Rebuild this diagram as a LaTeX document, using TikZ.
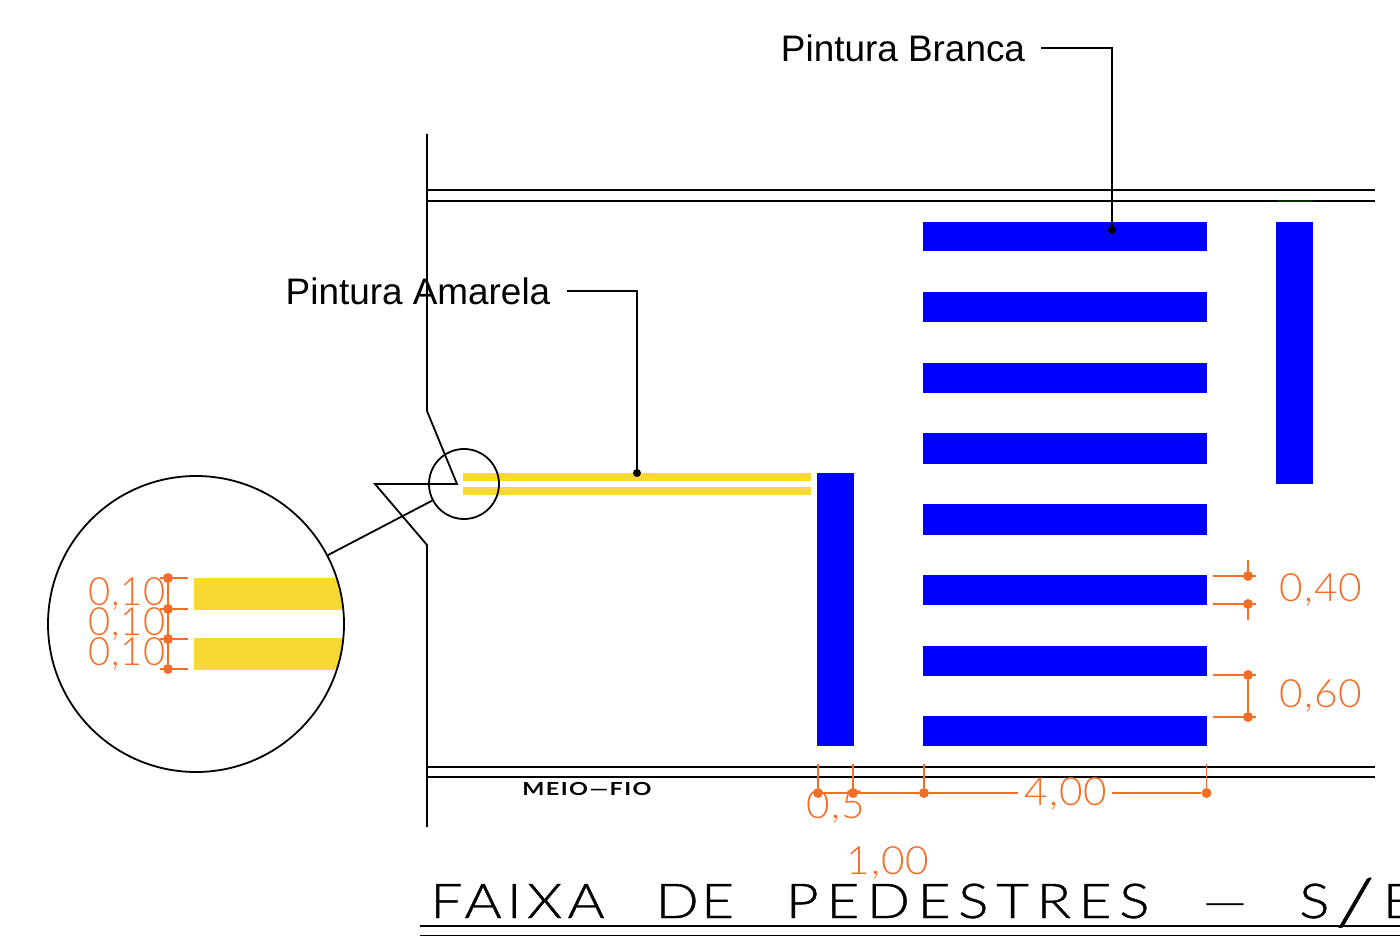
\documentclass[tikz,border=0pt]{standalone}
\usepackage{fontspec}
\setmainfont{Liberation Sans}
\newfontfamily\cadfont[FakeStretch=1.04, LetterSpace=3]{Lato Light}
\newfontfamily\cadfontdet[FakeStretch=0.98, LetterSpace=2]{Lato Light}
\newfontfamily\titlefont[FakeStretch=1.18, LetterSpace=12, FakeBold=0.8]{Lato Light}
\newfontfamily\meiofont[FakeStretch=1.3, LetterSpace=8]{Lato}
\usetikzlibrary{calc}
\definecolor{tintaazul}{RGB}{0,0,255}
\definecolor{tintaamarela}{RGB}{248,216,50}
\definecolor{cota}{RGB}{245,110,40}
\tikzset{
  linha/.style={black, line width=0.9pt},
  faixa/.style={fill=tintaazul},
  amarela/.style={fill=tintaamarela},
  rotulo/.style={font=\fontsize{18.45}{20}\selectfont, inner sep=8pt, text height=13.8pt, text depth=0pt},
  cotalinha/.style={cota, line width=0.8pt},
  cotatexto/.style={cota, font=\cadfont\fontsize{19.5}{20}\selectfont, inner sep=0pt},
  cotadet/.style={cotatexto, font=\cadfontdet\fontsize{19.5}{20}\selectfont, anchor=east},
  ponto/.style={circle, fill=cota, inner sep=0pt, minimum size=5pt},
}
\begin{document}
\begin{tikzpicture}[x=0.5pt, y=-0.5pt]
        \useasboundingbox (0,0) rectangle (1400,945);
        \clip (0,0) rectangle (1400,945);

        % Points of the kerb outline
        \coordinate (K1) at (427,134);
        \coordinate (K2) at (427,411);
        \coordinate (K3) at (457,484);
        \coordinate (K4) at (375,484);
        \coordinate (K5) at (427,545);
        \coordinate (K6) at (427,827);

        % Road edges and break line
        \draw[linha] (427,190) -- (1375,190);
        \draw[linha] (427,201) -- (1375,201);
        \draw[linha] (427,767) -- (1375,767);
        \draw[linha] (427,777) -- (1375,777);
        \draw[linha] (K1) -- (K2) -- (K3) -- (K4) -- (K5) -- (K6);
        \draw[black!70!green!60!black, line width=0.9pt] (1277,201) -- (1313,201);

        % White paint, drawn blue
        \foreach \y/\h in {222/29, 292/30, 363/30, 433/31, 504/31, 575/30, 646/30, 716/30}
          \fill[faixa] (923,\y) rectangle ++(284,\h);
        \fill[faixa] (1276,222) rectangle (1313,484);
        \fill[faixa] (817,473) rectangle (854,746);

        % Yellow paint
        \fill[amarela] (463,473) rectangle (811,481.5);
        \fill[amarela] (463,487) rectangle (811,495);

        % Detail circles
        \node[draw, circle, line width=0.9pt, minimum size=35pt, inner sep=0pt] (Small) at (464,484) {};
        \begin{scope}
          \clip (196,624) circle (148);
          \fill[amarela] (194,578) rectangle (350,610);
          \fill[amarela] (194,638) rectangle (350,670);
        \end{scope}
        \node[draw, circle, line width=0.9pt, minimum size=148pt, inner sep=0pt] (Big) at (196,624) {};
        \draw[linha] (Big) -- (Small);

        % Labels with leaders
        \node[rotulo] (PB) at (903,48) {Pintura Branca};
        \coordinate (PBend) at (1112,230);
        \draw[linha] (PB.east) -| (PBend);
        \fill (PBend) circle (4);
        \node[rotulo] (PA) at (418,291) {Pintura Amarela};
        \coordinate (PAend) at (637,473);
        \draw[linha] (PA.east) -| (PAend);
        \fill (PAend) circle (4);

        % Dimensions of the detail
        \foreach \n/\y in {a/578, b/609, c/639, d/669} {
          \node[ponto] (D\n) at (168,\y) {};
          \draw[cotalinha] (160,\y) -- (188,\y);
        }
        \draw[cotalinha] (Da) -- (Dd);
        \node[cotadet] at (166,594) {0,10};
        \node[cotadet] at (166,624) {0,10};
        \node[cotadet] at (166,654) {0,10};

        % Dimensions on the right
        \foreach \n/\y in {a/576, b/604, c/675, d/717} {
          \node[ponto] (R\n) at (1248,\y) {};
          \draw[cotalinha] (1213,\y) -- (1256,\y);
        }
        \draw[cotalinha] (1248,560) -- (Ra);
        \draw[cotalinha] (Rb) -- (1248,620);
        \draw[cotalinha] (Rc) -- (Rd);
        \node[cotatexto, anchor=west] at (1279,590) {0,40};
        \node[cotatexto, anchor=west] at (1279,696) {0,60};

        % Dimensions at the bottom
        \foreach \n/\x in {a/818, b/853, c/924, d/1206.5} {
          \node[ponto] (B\n) at (\x,793) {};
          \draw[cotalinha] (\x,764) -- (B\n);
        }
        \node[cotatexto] (Bq) at (1066,794) {4,00};
        \draw[cotalinha] (Ba) -- (Bc) -- (1018,793);
        \draw[cotalinha] (1112,793) -- (Bd);
        \node[cotatexto] at (835.5,807) {0,5};
        \node[cotatexto] at (888,863) {1,00};

        % Texts of the drawing
        \node[font=\meiofont\bfseries\fontsize{9}{10}\selectfont, inner sep=0pt] (MF) at (587,789) {MEIO—FIO};
        \node[font=\titlefont\fontsize{24}{26}\selectfont, inner sep=0pt, anchor=base west] (Title) at (430,918) {{\addfontfeature{LetterSpace=11}FAIXA}\hspace{25.5pt}{\addfontfeature{LetterSpace=5}DE}\hspace{26pt}{\addfontfeature{LetterSpace=16}PEDESTRES}\hspace{26.5pt}—\hspace{26pt}S\hspace{3pt}\raisebox{-3.5pt}{\scalebox{1.6}[1.35]{/}}\hspace{4pt}E};
        \draw[linha] (420,926) -- (1400,926);
        \draw[linha] (420,935.5) -- (1400,935.5);
    \end{tikzpicture}
\end{document}
